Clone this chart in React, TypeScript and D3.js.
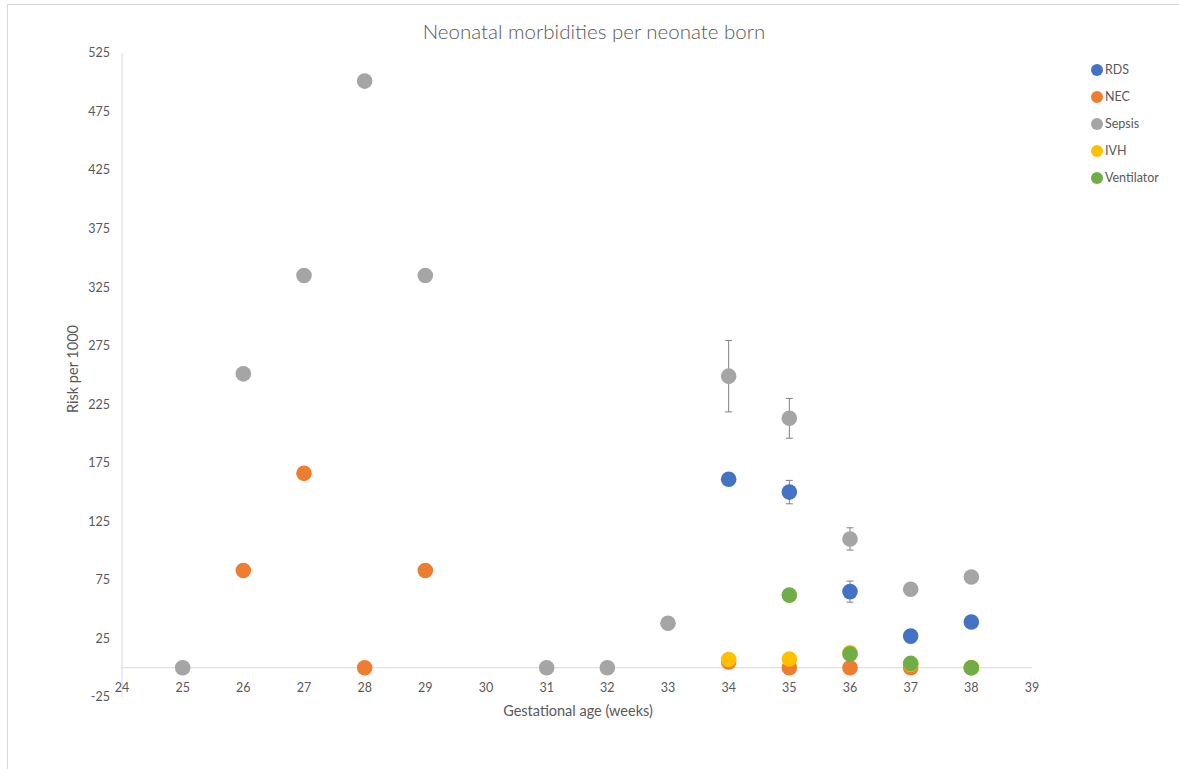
import React from "react";
import * as d3 from "d3";

const weeks = [24, 25, 26, 27, 28, 29, 30, 31, 32, 33, 34, 35, 36, 37, 38, 39];
const yTicks = [-25, 25, 75, 125, 175, 225, 275, 325, 375, 425, 475, 525];

const seriesNames = ["RDS", "NEC", "Sepsis", "IVH", "Ventilator"];
const seriesColors = ["#4472C4", "#ED7D31", "#A5A5A5", "#FFC000", "#70AD47"];

// [week, value, errorHalfWidth]
const rdsData: [number, number, number][] = [
  [34, 161, 0], [35, 150, 10], [36, 65, 9], [37, 27, 0], [38, 39, 0],
];
const necData: [number, number, number][] = [
  [26, 83, 0], [27, 166, 0], [28, 0, 0], [29, 83, 0], [34, 5, 0], [35, 0, 0], [36, 0, 0], [37, 0, 0], [38, 0, 0],
];
const sepsisData: [number, number, number][] = [
  [25, 0, 0], [26, 251, 0], [27, 335, 0], [28, 501, 0], [29, 335, 0], [31, 0, 0], [32, 0, 0], [33, 38, 0],
  [34, 249, 30.5], [35, 213, 17], [36, 110, 9.5], [37, 67, 0], [38, 77.5, 0],
];
const ivhData: [number, number, number][] = [
  [34, 7, 0], [35, 7.5, 0], [36, 12.8, 0], [37, 3, 0], [38, 0, 0],
];
const ventData: [number, number, number][] = [
  [35, 62, 0], [36, 11.7, 0], [37, 3.7, 0], [38, 0, 0],
];
const allSeries = [rdsData, necData, sepsisData, ivhData, ventData];

export default function App() {
  const W = 1179, H = 769;
  const x = d3.scaleLinear().domain([24, 39]).range([122, 1032]);
  const y = d3.scaleLinear().domain([-25, 525]).range([697, 53]);
  const font = "Lato, 'Open Sans', sans-serif";
  const txt = "#595959";
  const axisCol = "#d9d9d9";
  const errCol = "#808080";
  const r = 7.8;

  return (
    <svg width={W} height={H} style={{ position: "absolute", left: 0, top: 0, background: "#fff" }} fontFamily={font}>
      <rect x={7.5} y={4.5} width={1300} height={900} fill="#fff" stroke={axisCol} />
      <text x={594} y={39} textAnchor="middle" fontSize={20.5} fill={txt} fontWeight={300}>
        Neonatal morbidities per neonate born
      </text>
      {/* axes */}
      <line x1={x(24)} x2={x(24)} y1={y(525)} y2={y(-25)} stroke={axisCol} />
      <line x1={x(24)} x2={x(39)} y1={y(0)} y2={y(0)} stroke={axisCol} />
      {yTicks.map((t) => (
        <text key={t} x={110} y={y(t)} dy="0.35em" textAnchor="end" fontSize={12.5} fill={txt}>
          {t}
        </text>
      ))}
      {weeks.map((w) => (
        <text key={w} x={x(w)} y={y(0) + 24} textAnchor="middle" fontSize={12.5} fill={txt}>
          {w}
        </text>
      ))}
      <text x={578} y={716} textAnchor="middle" fontSize={14.5} fill={txt}>
        Gestational age (weeks)
      </text>
      <text transform={`translate(78,369) rotate(-90)`} textAnchor="middle" fontSize={14.5} fill={txt}>
        Risk per 1000
      </text>
      {/* series */}
      {allSeries.map((data, si) => (
        <g key={si}>
          {data.map(([w, v, e], i) => (
            <g key={i}>
              {e > 0 && (
                <g stroke={errCol} strokeWidth={1}>
                  <line x1={x(w)} x2={x(w)} y1={y(v + e)} y2={y(v - e)} />
                  <line x1={x(w) - 3.5} x2={x(w) + 3.5} y1={y(v + e)} y2={y(v + e)} />
                  <line x1={x(w) - 3.5} x2={x(w) + 3.5} y1={y(v - e)} y2={y(v - e)} />
                </g>
              )}
              <circle cx={x(w)} cy={y(v)} r={r} fill={seriesColors[si]} />
            </g>
          ))}
        </g>
      ))}
      {/* legend */}
      {seriesNames.map((n, i) => (
        <g key={n} transform={`translate(1097,${70 + i * 27})`}>
          <circle cx={0} cy={0} r={6} fill={seriesColors[i]} />
          <text x={8} y={0} dy="0.35em" fontSize={12.5} fill={txt}>
            {n}
          </text>
        </g>
      ))}
    </svg>
  );
}
